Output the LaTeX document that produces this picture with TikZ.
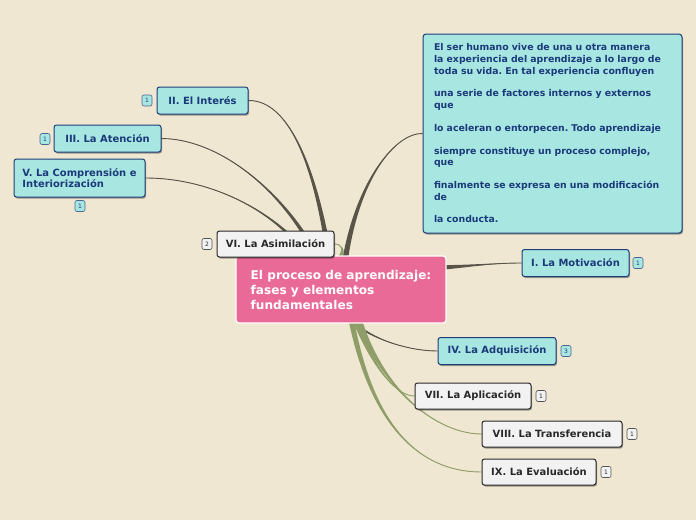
\documentclass[tikz,border=0pt]{standalone}
\usepackage{fontspec}
\setmainfont{DejaVu Sans}
\usetikzlibrary{shadows,calc}
\frenchspacing
\pgfdeclarelayer{bgl}
\pgfdeclarelayer{lines}
\pgfsetlayers{bgl,lines,main}
\definecolor{bg}{RGB}{239,231,210}
\definecolor{boxcyan}{RGB}{168,230,226}
\definecolor{boxblue}{RGB}{30,62,120}
\definecolor{txtblue}{RGB}{26,58,122}
\definecolor{boxwhite}{RGB}{242,242,242}
\definecolor{boxdark}{RGB}{40,40,40}
\definecolor{pinkc}{RGB}{233,106,150}
\definecolor{darkline}{RGB}{88,84,72}
\definecolor{greenline}{RGB}{143,158,104}
\newcommand\taper[6]{%
  \fill[#6] ($#1+#5$) .. controls ($#2+0.5*#5$) and #3 .. #4
     .. controls #3 and ($#2-0.5*#5$) .. ($#1-#5$) -- cycle;
  \draw[#6, line width=0.9pt] #1 .. controls #2 and #3 .. #4;}
\tikzset{
  shad/.style={drop shadow={shadow xshift=1pt, shadow yshift=-1.5pt, opacity=0.35, fill=black}},
  cyanbox/.style={draw=boxblue, fill=boxcyan, line width=1pt, rounded corners=2.5pt,
     font=\fontsize{9.95}{11.5}\selectfont\bfseries, text=txtblue, minimum height=27pt, inner sep=0pt, shad},
  whitebox/.style={draw=boxdark, fill=boxwhite, line width=1pt, rounded corners=2.5pt,
     font=\fontsize{9.95}{11.5}\selectfont\bfseries, text=boxdark, minimum height=26pt, inner sep=0pt, shad},
  badgec/.style={draw=boxblue!80, fill=boxcyan, line width=0.6pt, rounded corners=2pt,
     minimum width=10pt, minimum height=11pt, inner sep=0pt, font=\fontsize{6}{6}\selectfont, text=txtblue},
  badgew/.style={draw=boxdark!80, fill=boxwhite, line width=0.6pt, rounded corners=2pt,
     minimum width=10pt, minimum height=11pt, inner sep=0pt, font=\fontsize{6}{6}\selectfont, text=boxdark},
}
\begin{document}
\begin{tikzpicture}[x=1pt,y=-1pt]
\begin{pgfonlayer}{bgl}
\fill[bg] (0,0) rectangle (696,520);
\end{pgfonlayer}
\useasboundingbox (0,0) rectangle (696,520);

% central
\node[draw=white, fill=pinkc, line width=1.2pt, rounded corners=3pt, minimum width=210pt, minimum height=67pt,
  inner sep=0pt, align=left, text=white, font=\fontsize{12.1}{15}\selectfont\bfseries] (C) at (341,289.5)
  {El proceso de aprendizaje:\\fases y elementos\\fundamentales};

\coordinate (sII) at ($(C.north west)+(94,3)$);
\coordinate (sIII) at ($(C.north west)+(82,3)$);
\coordinate (sV) at ($(C.north west)+(74,3)$);
\coordinate (sVI) at ($(C.north west)+(104,3)$);
\coordinate (sT) at ($(C.north west)+(110,3)$);
\coordinate (sI) at ($(C.north east)+(-3,12)$);
\coordinate (sIV) at ($(C.south west)+(116,-3)$);
\coordinate (sVII) at ($(C.south west)+(120,-3)$);
\coordinate (sVIII) at ($(C.south west)+(124,-3)$);
\coordinate (sIX) at ($(C.south west)+(116,-3)$);

% node boxes
\node[cyanbox, minimum width=91pt] (II) at (202.5,100.5) {II. El Interés};
\node[cyanbox, minimum width=107pt] (III) at (107.5,138.5) {III. La Atención};
\node[cyanbox, minimum width=131pt, minimum height=38pt, align=left] (V) at (79.5,178) {V. La Comprensión e\\Interiorización};
\node[whitebox, minimum width=117pt] (VI) at (275.5,244) {VI. La Asimilación};
\node[cyanbox, minimum width=107pt] (I) at (575.5,263) {I. La Motivación};
\node[cyanbox, minimum width=118pt] (IV) at (497,351) {IV. La Adquisición};
\node[whitebox, minimum width=116pt] (VII) at (473,396) {VII. La Aplicación};
\node[whitebox, minimum width=140pt] (VIII) at (552,434) {VIII. La Transferencia};
\node[whitebox, minimum width=114pt] (IX) at (539,472) {IX. La Evaluación};
\node[draw=boxblue, fill=boxcyan, line width=1pt, rounded corners=3pt, minimum width=259pt, minimum height=199pt,
  text width=237pt, inner xsep=11pt, inner ysep=0pt, align=left, text=txtblue, shad,
  font=\fontsize{9.35}{11.6}\selectfont\bfseries] (T) at (552.5,133.5)
  {El ser humano vive de una u otra manera\\
   la experiencia del aprendizaje a lo largo de\\
   toda su vida. En tal experiencia confluyen\\[11.2pt]
   una serie de factores internos y externos\\
   que\\[11.2pt]
   lo aceleran o entorpecen. Todo aprendizaje\\[11.2pt]
   siempre constituye un proceso complejo,\\
   que\\[11.2pt]
   finalmente se expresa en una modificación\\
   de\\[11.2pt]
   la conducta.};

% connectors behind nodes
\begin{pgfonlayer}{lines}
\taper{(sII)}{(316,170)}{(290,100)}{(II.east)}{(2.8,0)}{darkline}
\taper{(sIII)}{(290,200)}{(225,139)}{(III.east)}{(2.8,0)}{darkline}
\taper{(sV)}{(280,215)}{(215,178)}{(V.east)}{(2.8,0)}{darkline}
\taper{(sT)}{(358,180)}{(395,133)}{(T.west)}{(2.8,0)}{darkline}
\taper{(sI)}{(470,266)}{(495,263)}{(I.west)}{(0,2.2)}{darkline}
\taper{(sIV)}{(372,340)}{(410,351)}{(IV.west)}{(2.5,0)}{darkline}
\taper{(sVI)}{(345,250)}{(342,244)}{(VI.east)}{(2.5,0)}{greenline}
\taper{(sVII)}{(372,365)}{(395,396)}{(VII.west)}{(2.8,0)}{greenline}
\taper{(sVIII)}{(385,395)}{(440,434)}{(VIII.west)}{(2.8,0)}{greenline}
\taper{(sIX)}{(375,440)}{(430,472)}{(IX.west)}{(2.8,0)}{greenline}
\end{pgfonlayer}

% badges
\node[badgec] (bII) at (147,100.5) {1};
\node[badgec] (bIII) at (45,139) {1};
\node[badgec] (bV) at (80,206) {1};
\node[badgew] (bVI) at (207,244) {2};
\node[badgec] (bI) at (638,263) {1};
\node[badgec] (bIV) at (566,351) {3};
\node[badgew] (bVII) at (541,396) {1};
\node[badgew] (bVIII) at (632,434) {1};
\node[badgew] (bIX) at (606,472) {1};
\end{tikzpicture}
\end{document}
